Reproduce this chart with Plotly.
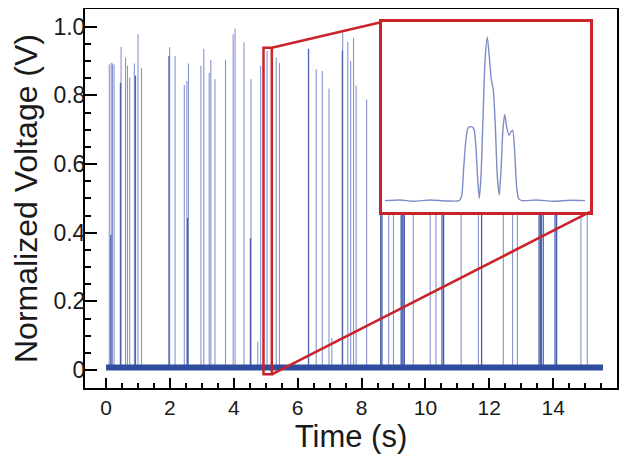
import plotly.graph_objects as go

# ---------------- data ----------------
# baseline of the trace (time in s, normalized voltage)
baseline_t = [0.0, 15.56]
baseline_v = [0.007, 0.007]

# individual (thin, lighter) spikes
light_spike_t = [0.10, 0.16, 0.20, 0.25, 0.47, 0.61, 0.67, 0.74, 0.885, 1.00, 1.11,
                 1.99, 2.16, 2.45, 2.53, 2.58, 2.97, 3.06, 3.23, 3.28, 3.41, 3.74,
                 3.98, 4.04, 4.32, 4.54, 4.75, 4.84, 5.04, 5.33, 5.43, 6.58, 6.77,
                 6.98, 7.07, 7.41, 7.57, 7.66, 7.75, 7.83, 8.16, 8.85, 9.00, 9.62,
                 10.15, 10.33, 11.12, 11.66, 12.44, 12.73, 12.88, 14.87, 15.07]
light_spike_v = [0.890, 0.895, 0.893, 0.890, 0.942, 0.910, 0.886, 0.852, 0.893, 0.978, 0.880,
                 0.940, 0.915, 0.830, 0.842, 0.893, 0.886, 0.936, 0.866, 0.903, 0.847, 0.903,
                 0.978, 0.995, 0.954, 0.847, 0.083, 0.886, 0.930, 0.910, 0.894, 0.876, 0.871,
                 0.820, 0.093, 0.983, 0.956, 0.900, 0.968, 0.829, 0.788, 0.900, 0.880, 0.900,
                 0.870, 0.920, 0.890, 0.900, 0.860, 0.900, 0.880, 0.900, 0.880]

# clustered (darker) spikes
dark_spike_t = [0.15, 0.45, 0.92, 1.97, 2.55, 4.52, 6.34, 7.40, 8.60, 8.64,
                9.24, 9.27, 9.30, 9.34, 10.52, 10.57, 11.76,
                13.56, 13.60, 13.63, 13.69, 14.06, 14.11]
dark_spike_v = [0.394, 0.837, 0.858, 0.915, 0.443, 0.384, 0.936, 0.930, 0.900, 0.870,
                0.920, 0.880, 0.900, 0.860, 0.900, 0.880, 0.910,
                0.900, 0.930, 0.870, 0.900, 0.890, 0.920]

# zoomed single event shown in the inset (sample index, normalized amplitude)
inset_x = [0, 15, 28.3, 45, 61.7, 74.3, 76.7, 78.7, 80.7, 82.7, 85, 87.7, 89.3, 91, 92.7,
           94.3, 96, 98, 100, 102.3, 104.3, 106.3, 108.3, 110.3, 112.3, 114.3, 116.3,
           118, 119.7, 121.7, 124, 126, 127.7, 129.7, 131.7, 133.7, 136.7, 151.7,
           168.3, 185, 200]
inset_v = [0.0, 0.004, -0.004, 0.004, -0.002, 0.0, 0.03, 0.2, 0.36, 0.44, 0.452, 0.448,
           0.43, 0.32, 0.13, 0.014, 0.15, 0.5, 0.85, 1.0, 0.88, 0.74, 0.675, 0.46, 0.15,
           0.035, 0.22, 0.44, 0.527, 0.45, 0.40, 0.42, 0.43, 0.3, 0.08, 0.012, 0.0,
           0.004, -0.004, 0.002, 0.0]

x_ticks = [0, 2, 4, 6, 8, 10, 12, 14]
y_ticks = [0, 0.2, 0.4, 0.6, 0.8, 1.0]
y_ticklabels = ["0", "0.2", "0.4", "0.6", "0.8", "1.0"]

# ---------------- layout constants ----------------
XR = [-0.66, 16.0]
YR = [-0.0524, 1.0516]
INSET_DX = [0.5583, 0.9492]
INSET_DY = [0.4646, 0.9657]
ZOOM_T = [4.93, 5.19]
ZOOM_V = [-0.0125, 0.939]
RED = "rgb(200,36,42)"


def paper_to_x(p):
    return XR[0] + p * (XR[1] - XR[0])


def paper_to_y(p):
    return YR[0] + p * (YR[1] - YR[0])


def segments(ts, vs, base):
    xs, ys = [], []
    for t, v in zip(ts, vs):
        xs += [t, t, None]
        ys += [base, v, None]
    return xs, ys


fig = go.Figure()

lx, ly = segments(light_spike_t, light_spike_v, baseline_v[0])
dx, dy = segments(dark_spike_t, dark_spike_v, baseline_v[0])

fig.add_trace(go.Scatter(x=lx, y=ly, mode="lines", line=dict(color="#8894cf", width=1.1),
                         hoverinfo="skip", showlegend=False))
fig.add_trace(go.Scatter(x=dx, y=dy, mode="lines", line=dict(color="#4a62ae", width=1.3),
                         hoverinfo="skip", showlegend=False))
fig.add_trace(go.Scatter(x=baseline_t, y=baseline_v, mode="lines",
                         line=dict(color="#2f4d9e", width=6), showlegend=False))

fig.add_trace(go.Scatter(x=inset_x, y=inset_v, mode="lines", xaxis="x2", yaxis="y2",
                         line=dict(color="#7f8cc8", width=1.4, shape="spline", smoothing=0.6),
                         showlegend=False))

minor_x = [v / 2 for v in range(1, 32) if v % 4 != 0]

fig.update_layout(
    width=629, height=461,
    margin=dict(l=77, r=20, t=1, b=81),
    paper_bgcolor="white", plot_bgcolor="white",
    font=dict(family="Liberation Sans, Arial, sans-serif", color="#1a1a1a"),
    xaxis=dict(range=XR, showgrid=False, zeroline=False, showline=True, mirror=True,
               automargin=False,
               linecolor="black", linewidth=2, ticks="inside", ticklen=10, tickwidth=1.5,
               tickcolor="black", tickvals=x_ticks, tickfont=dict(size=21),
               minor=dict(tickmode="array", tickvals=minor_x, ticks="inside", ticklen=5,
                          tickwidth=1.5, tickcolor="black"),
               title=dict(text="Time (s)", font=dict(size=31), standoff=3)),
    yaxis=dict(range=YR, showgrid=False, zeroline=False, showline=True, mirror=True,
               automargin=False, ticklabelstandoff=-7,
               linecolor="black", linewidth=2, ticks="inside", ticklen=12, tickwidth=1.5,
               tickcolor="black", tickvals=y_ticks, ticktext=y_ticklabels,
               tickfont=dict(size=23),
               minor=dict(dtick=0.05, tick0=0, ticks="inside", ticklen=6, tickwidth=1.5,
                          tickcolor="black"),
               title=dict(text="Normalized Voltage (V)", font=dict(size=32), standoff=6)),
    xaxis2=dict(domain=INSET_DX, anchor="y2", range=[-3, 205], showgrid=False,
                automargin=False,
                zeroline=False, showticklabels=False, ticks="", showline=True, mirror=True,
                linecolor=RED, linewidth=2.5),
    yaxis2=dict(domain=INSET_DY, anchor="x2", range=[-0.069, 1.092], showgrid=False,
                automargin=False,
                zeroline=False, showticklabels=False, ticks="", showline=True, mirror=True,
                linecolor=RED, linewidth=2.5),
    shapes=[
        dict(type="rect", xref="x", yref="y", x0=ZOOM_T[0], x1=ZOOM_T[1],
             y0=ZOOM_V[0], y1=ZOOM_V[1], line=dict(color=RED, width=2.5)),
        dict(type="line", xref="x", yref="y", x0=ZOOM_T[1], y0=ZOOM_V[1],
             x1=paper_to_x(INSET_DX[0]), y1=paper_to_y(INSET_DY[1]),
             line=dict(color=RED, width=2.5)),
        dict(type="line", xref="x", yref="y", x0=ZOOM_T[1], y0=ZOOM_V[0],
             x1=paper_to_x(INSET_DX[1]), y1=paper_to_y(INSET_DY[0]),
             line=dict(color=RED, width=2.5)),
    ],
)

fig.write_html("out.html")
